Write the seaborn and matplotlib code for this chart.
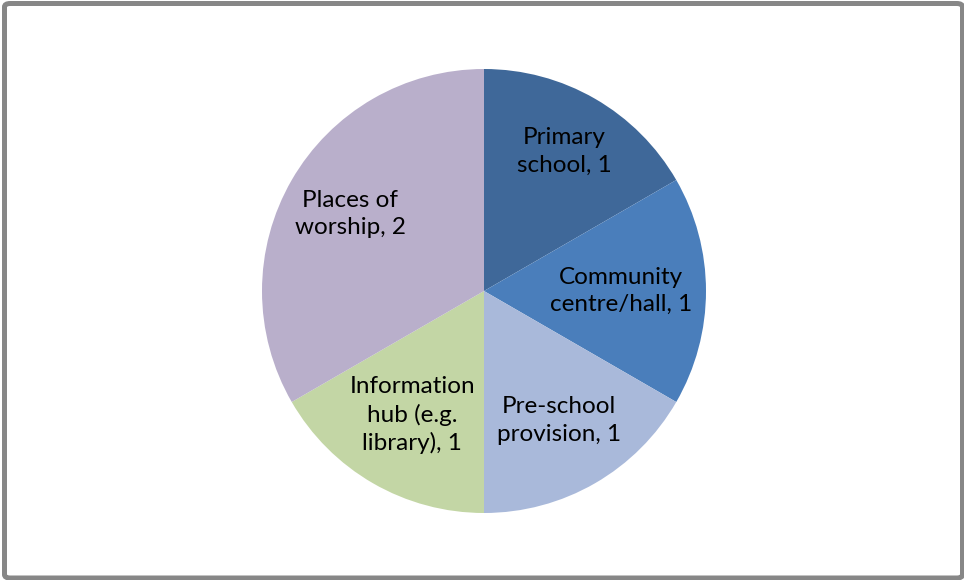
import matplotlib
matplotlib.use("Agg")
import matplotlib.pyplot as plt
from matplotlib.patches import FancyBboxPatch
import numpy as np
import seaborn as sns

# Community facilities counts
categories = [
    "Primary\nschool",
    "Community\ncentre/hall",
    "Pre-school\nprovision",
    "Information\nhub (e.g.\nlibrary)",
    "Places of\nworship",
]
values = [1, 1, 1, 1, 2]
slice_colors = ["#3F6899", "#4A7EBB", "#A9B9DA", "#C3D6A5", "#B9AFCB"]
# radial placement of each label inside its slice (fraction of radius)
label_radius = [0.726, 0.617, 0.673, 0.645, 0.695]

sns.set_theme(style="white")
plt.rcParams["font.family"] = ["Lato", "DejaVu Sans"]

W, H = 964, 580
fig = plt.figure(figsize=(W / 100, H / 100), dpi=100)
fig.patch.set_facecolor("white")

cx, cy, r = 484, 291, 222
ax = fig.add_axes([(cx - r) / W, (H - cy - r) / H, 2 * r / W, 2 * r / H])
wedges, _ = ax.pie(
    values,
    colors=sns.color_palette(slice_colors),
    startangle=90,
    counterclock=False,
    radius=1,
    wedgeprops=dict(linewidth=0, antialiased=True),
)
ax.set_xlim(-1, 1)
ax.set_ylim(-1, 1)
ax.set_axis_off()

for w, cat, v, d in zip(wedges, categories, values, label_radius):
    mid = np.deg2rad((w.theta1 + w.theta2) / 2)
    ax.text(d * np.cos(mid), d * np.sin(mid), f"{cat}, {v}",
            ha="center", va="center", fontsize=17.5, color="black",
            linespacing=1.38)

# rounded grey frame around the chart area
frame = FancyBboxPatch(
    (4.5 / W, 2.0 / H), (962.5 - 4.5) / W, (576.5 - 2.0) / H,
    boxstyle="round,pad=0,rounding_size=0.006",
    transform=fig.transFigure, facecolor="none",
    edgecolor="#878787", linewidth=3.6, clip_on=False,
)
fig.patches.append(frame)

fig.savefig("out.png", dpi=100, facecolor="white")
